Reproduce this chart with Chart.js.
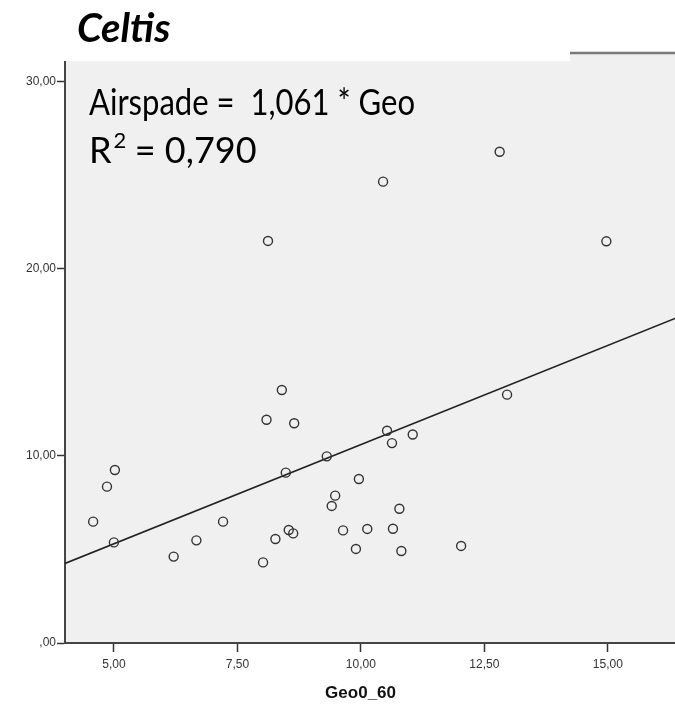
<!DOCTYPE html>
<html>
<head>
<meta charset="utf-8">
<title>Celtis</title>
<script src="https://cdn.jsdelivr.net/npm/chart.js@4"></script>
<style>
  body { margin: 0; background: #fff; }
  #celtisChart { display: block; }
</style>
</head>
<body>
<canvas id="celtisChart" width="675" height="710"></canvas>
<script>
// values (Geo0_60 vs Airspade)
const geoValues = [4.58, 4.86, 5.02, 5.00, 6.21, 6.67, 7.21, 8.02, 8.09, 8.40, 8.65, 8.27,
    8.54, 8.63, 8.48, 9.31, 9.96, 9.48, 9.41, 9.64, 9.90, 10.13, 10.53, 10.63, 10.78,
    10.65, 10.82, 11.05, 12.03, 12.96, 14.97, 12.81, 10.45, 8.12];
const airspadeValues = [6.49, 8.36, 9.25, 5.38, 4.62, 5.49, 6.49, 4.31, 11.94, 13.53, 11.75, 5.56,
    6.04, 5.86, 9.11, 9.98, 8.77, 7.88, 7.33, 6.02, 5.03, 6.10, 11.35, 10.69, 7.18,
    6.11, 4.92, 11.15, 5.19, 13.28, 21.48, 26.27, 24.67, 21.50];

const slope = 1.061;           // fit through origin
const rSquared = '0,790';

const xTicks = [5, 7.5, 10, 12.5, 15];
const xTickLabels = ['5,00', '7,50', '10,00', '12,50', '15,00'];
const yTicks = [0, 10, 20, 30];
const yTickLabels = [',00', '10,00', '20,00', '30,00'];

const xMin = 4.01, xMax = 16.36;
const yMin = 0, yMax = 31.55;

const points = geoValues.map((g, i) => ({ x: g, y: airspadeValues[i] }));
const fitLine = [xMin, xMax].map(x => ({ x: x, y: slope * x }));

const spssFrame = {
    id: 'spssFrame',
    beforeDraw: function (chart) {
        const ctx = chart.ctx;
        const a = chart.chartArea;
        ctx.save();
        ctx.fillStyle = '#f0f0f0';
        ctx.fillRect(a.left, a.top, a.right - a.left, a.bottom - a.top);
        ctx.restore();
    },
    afterDraw: function (chart) {
        const ctx = chart.ctx;
        const a = chart.chartArea;
        ctx.save();
        // top frame line
        ctx.strokeStyle = '#7a7a7a';
        ctx.lineWidth = 2.5;
        ctx.beginPath();
        ctx.moveTo(a.left, a.top);
        ctx.lineTo(a.right, a.top);
        ctx.stroke();
        // white box behind the title
        ctx.fillStyle = '#ffffff';
        ctx.fillRect(0, 0, 570, 61);

        ctx.fillStyle = '#000';
        ctx.textBaseline = 'alphabetic';
        ctx.font = 'italic bold 40px Lato';
        ctx.fillText('Celtis', 77, 42, 98);

        ctx.font = '36px Lato';
        ctx.fillText('Airspade =  1,061 * Geo', 89, 115, 326);
        ctx.fillText('R', 89, 163);
        const rw = ctx.measureText('R').width;
        ctx.font = '22px Lato';
        ctx.fillText('2', 89 + rw + 2, 148);
        ctx.font = '36px Lato';
        ctx.fillText(' = ' + rSquared, 89 + rw + 14, 163, 152);
        ctx.restore();
    }
};

const ctx = document.getElementById('celtisChart').getContext('2d');
new Chart(ctx, {
    type: 'scatter',
    data: {
        datasets: [{
            label: 'Airspade',
            data: points,
            pointRadius: 4.5,
            pointHoverRadius: 4.5,
            pointBorderWidth: 1.4,
            pointBorderColor: '#333',
            pointBackgroundColor: 'rgba(0,0,0,0)'
        }, {
            type: 'line',
            label: 'fit',
            data: fitLine,
            borderColor: '#222',
            borderWidth: 1.6,
            pointRadius: 0,
            fill: false
        }]
    },
    options: {
        responsive: false,
        animation: false,
        devicePixelRatio: 1,
        layout: { autoPadding: false, padding: { top: 53, right: 0, bottom: 0, left: 0 } },
        plugins: {
            legend: { display: false },
            tooltip: { enabled: false }
        },
        scales: {
            x: {
                type: 'linear',
                min: xMin,
                max: xMax,
                afterBuildTicks: function (scale) {
                    scale.ticks = xTicks.map(v => ({ value: v }));
                },
                afterFit: function (scale) {
                    scale.height = 67;
                    scale.paddingLeft = 0;
                    scale.paddingRight = 0;
                },
                ticks: {
                    autoSkip: false,
                    maxRotation: 0,
                    padding: 5,
                    color: '#333',
                    font: { family: 'Liberation Sans', size: 12 },
                    callback: function (value) {
                        const i = xTicks.indexOf(value);
                        return i >= 0 ? xTickLabels[i] : '';
                    }
                },
                grid: {
                    drawOnChartArea: false,
                    drawTicks: true,
                    tickLength: 9,
                    tickWidth: 1.5,
                    tickColor: '#333'
                },
                border: { color: '#444', width: 2 },
                title: {
                    display: true,
                    // trailing spaces nudge the centred title a little to the left
                    text: 'Geo0_60\u00a0\u00a0\u00a0\u00a0',
                    color: '#111',
                    font: { family: 'Liberation Sans', size: 17, weight: 'bold' },
                    padding: { top: 0, bottom: 6 }
                }
            },
            y: {
                type: 'linear',
                min: yMin,
                max: yMax,
                afterBuildTicks: function (scale) {
                    scale.ticks = yTicks.map(v => ({ value: v }));
                },
                afterFit: function (scale) {
                    scale.width = 65;
                    scale.paddingTop = 0;
                    scale.paddingBottom = 0;
                },
                ticks: {
                    autoSkip: false,
                    padding: 1,
                    color: '#333',
                    font: { family: 'Liberation Sans', size: 12 },
                    callback: function (value) {
                        const i = yTicks.indexOf(value);
                        return i >= 0 ? yTickLabels[i] : '';
                    }
                },
                grid: {
                    drawOnChartArea: false,
                    drawTicks: true,
                    tickLength: 8,
                    tickWidth: 1.5,
                    tickColor: '#333'
                },
                border: { color: '#444', width: 2 }
            }
        }
    },
    plugins: [spssFrame]
});
</script>
</body>
</html>
